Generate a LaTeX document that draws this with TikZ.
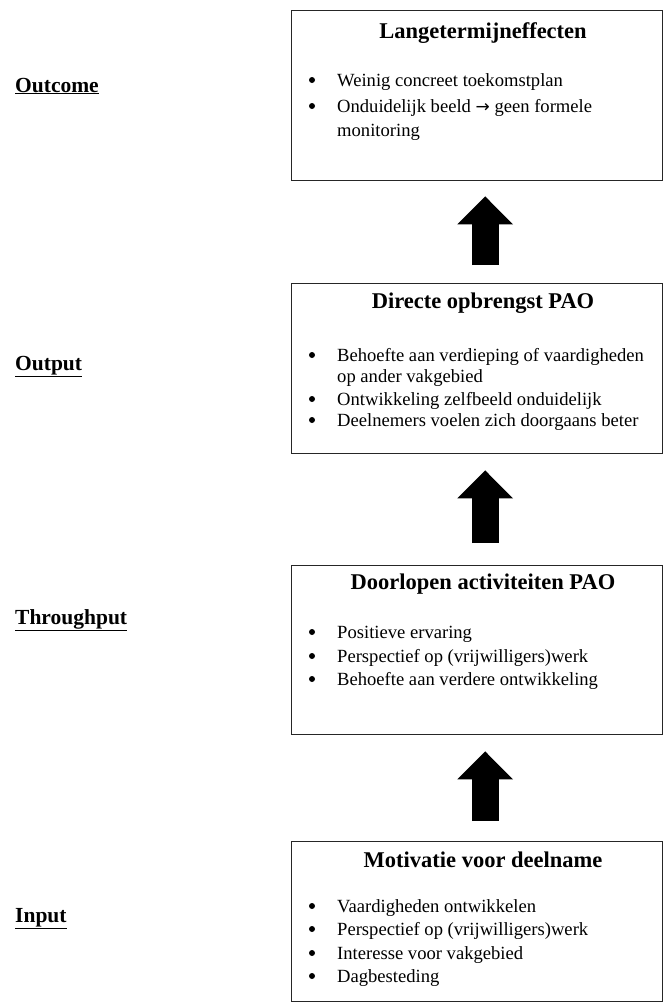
\documentclass[tikz,border=0pt]{standalone}
\usepackage{fontspec}
\setmainfont{Liberation Serif}
\usetikzlibrary{arrows.meta}
\begin{document}
\begin{tikzpicture}[x=1pt,y=-1pt,
  box/.style={draw=black!85, line width=1.3pt, minimum width=371pt, anchor=north west, inner sep=0pt},
  ttl/.style={font=\fontsize{22.5}{26}\selectfont\bfseries, anchor=base, inner sep=0pt},
  itm/.style={font=\fontsize{18.6}{23}\selectfont, anchor=base west, inner sep=0pt},
  bul/.style={circle, fill=black, inner sep=0pt, minimum size=6pt},
  lbl/.style={font=\fontsize{21.5}{25}\selectfont\bfseries, anchor=base west, inner sep=0pt},
  bigarrow/.style={line width=27pt, -{Triangle[length=28pt,width=54pt]}}
]
\useasboundingbox (0,0) rectangle (664,1005);
% boxes
\node[box, minimum height=170pt] (b1) at (291,10) {};
\node[box, minimum height=170pt] (b2) at (291,283) {};
\node[box, minimum height=169pt] (b3) at (291,565) {};
\node[box, minimum height=160pt] (b4) at (291,841) {};
% titles
\node[ttl] (t1) at (483,38) {Langetermijneffecten};
\node[ttl] (t2) at (483,308) {Directe opbrengst PAO};
\node[ttl] (t3) at (483,589) {Doorlopen activiteiten PAO};
\node[ttl] (t4) at (483,867) {Motivatie voor deelname};
% box 1 items
\node[bul] (p11) at (312,80) {};
\node[itm] (i11) at (337,86) {Weinig concreet toekomstplan};
\node[bul] (p12) at (312,106) {};
\node[itm] (i12) at (337,112) {Onduidelijk beeld {\fontspec{DejaVu Sans}\fontsize{17}{17}\selectfont→} geen formele};
\node[itm] (i13) at (337,136) {monitoring};
% box 2 items
\node[bul] (p21) at (312,355) {};
\node[itm] (i21) at (337,361) {Behoefte aan verdieping of vaardigheden};
\node[itm] (i22) at (337,382) {op ander vakgebied};
\node[bul] (p23) at (312,399) {};
\node[itm] (i23) at (337,405) {Ontwikkeling zelfbeeld onduidelijk};
\node[bul] (p24) at (312,420) {};
\node[itm] (i24) at (337,426) {Deelnemers voelen zich doorgaans beter};
% box 3 items
\node[bul] (p31) at (312,632) {};
\node[itm] (i31) at (337,638) {Positieve ervaring};
\node[bul] (p32) at (312,656) {};
\node[itm] (i32) at (337,662) {Perspectief op (vrijwilligers)werk};
\node[bul] (p33) at (312,679) {};
\node[itm] (i33) at (337,685) {Behoefte aan verdere ontwikkeling};
% box 4 items
\node[bul] (p41) at (312,906) {};
\node[itm] (i41) at (337,912) {Vaardigheden ontwikkelen};
\node[bul] (p42) at (312,929) {};
\node[itm] (i42) at (337,935) {Perspectief op (vrijwilligers)werk};
\node[bul] (p43) at (312,953) {};
\node[itm] (i43) at (337,959) {Interesse voor vakgebied};
\node[bul] (p44) at (312,976) {};
\node[itm] (i44) at (337,982) {Dagbesteding};
% side labels
\node[lbl] (l1) at (15,92) {\underline{Outcome}};
\node[lbl] (l2) at (15,370) {\underline{Output}};
\node[lbl] (l3) at (15,624) {\underline{Throughput}};
\node[lbl] (l4) at (15,922) {\underline{Input}};
% arrows
\draw[bigarrow, shorten <=18pt, shorten >=15pt] ([xshift=8pt]b2.north) -- ([xshift=8pt]b1.south);
\draw[bigarrow, shorten <=22pt, shorten >=16pt] ([xshift=8pt]b3.north) -- ([xshift=8pt]b2.south);
\draw[bigarrow, shorten <=20pt, shorten >=16pt] ([xshift=8pt]b4.north) -- ([xshift=8pt]b3.south);
\end{tikzpicture}
\end{document}
